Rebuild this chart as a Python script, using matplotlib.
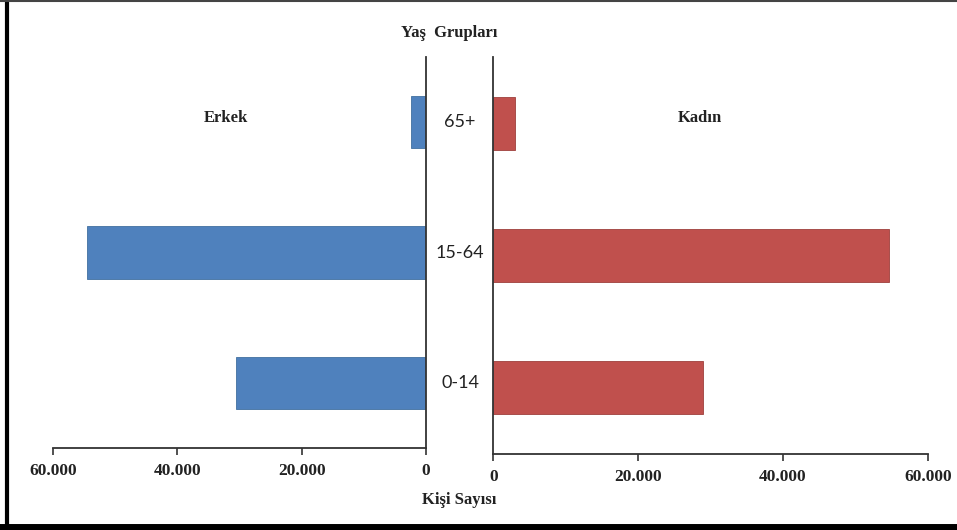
import matplotlib
matplotlib.use("Agg")
import matplotlib.pyplot as plt
from matplotlib.ticker import FuncFormatter
from matplotlib.lines import Line2D

# age groups, bottom to top
age_groups = ["0-14", "15-64", "65+"]
erkek = [30500, 54450, 2450]
kadin = [28950, 54650, 3000]
ticks = [0, 20000, 40000, 60000]

blue = "#4F81BD"
red = "#C0504D"
serif = "Liberation Serif"


def dot_thousands(v, pos):
    return f"{int(v):,}".replace(",", ".")


fig = plt.figure(figsize=(9.57, 5.30), dpi=100)

# left side (Erkek)
ax1 = fig.add_axes([0.0551, 0.1547, 0.3901, 0.7377])
ax1.barh(range(len(age_groups)), erkek, height=0.4, color=blue, edgecolor="#41709f", linewidth=0.6)
ax1.set_xlim(60000, 0)
ax1.set_ylim(-0.5, 2.5)

# right side (Kadın)
ax2 = fig.add_axes([0.5155, 0.1434, 0.4539, 0.7490])
ax2.barh(range(len(age_groups)), kadin, height=0.4, color=red, edgecolor="#9e3f3c", linewidth=0.6)
ax2.set_xlim(0, 60000)
ax2.set_ylim(-0.5, 2.5)

for ax, keep in ((ax1, "right"), (ax2, "left")):
    for s in ax.spines:
        ax.spines[s].set_visible(s in ("bottom", keep))
    for s in ("bottom", keep):
        ax.spines[s].set_linewidth(1.3)
        ax.spines[s].set_color("#333333")
    ax.set_yticks([])
    ax.set_xticks(ticks)
    ax.xaxis.set_major_formatter(FuncFormatter(dot_thousands))
    ax.tick_params(axis="x", length=5, width=1.2, color="#333333", pad=6)
    for lbl in ax.get_xticklabels():
        lbl.set_fontfamily(serif)
        lbl.set_fontweight("bold")
        lbl.set_fontsize(12.5)
        lbl.set_color("#222222")
    ax.patch.set_alpha(0)

# age group labels between the two axes
inv = fig.transFigure.inverted()
for i, g in enumerate(age_groups):
    y = ax1.transData.transform((0, i))[1]
    fy = inv.transform((0, y))[1]
    fig.text(460 / 957, fy, g, ha="center", va="center", fontsize=13,
             family="Lato", color="#222222")

fig.text(449 / 957, 1 - 33 / 530, "Yaş  Grupları", ha="center", va="center",
         family=serif, fontweight="bold", fontsize=12, color="#222222")
fig.text(226 / 957, 1 - 118 / 530, "Erkek", ha="center", va="center",
         family=serif, fontweight="bold", fontsize=12, color="#222222")
fig.text(700 / 957, 1 - 118 / 530, "Kadın", ha="center", va="center",
         family=serif, fontweight="bold", fontsize=12, color="#222222")
fig.text(459 / 957, 1 - 500 / 530, "Kişi Sayısı", ha="center", va="center",
         family=serif, fontweight="bold", fontsize=12, color="#222222")

# outer frame of the picture
fig.add_artist(Line2D([7.5 / 957, 7.5 / 957], [0, 1], transform=fig.transFigure,
                      color="black", linewidth=3))
fig.add_artist(Line2D([0, 1], [3.5 / 530, 3.5 / 530], transform=fig.transFigure,
                      color="black", linewidth=5))
fig.add_artist(Line2D([0, 1], [1 - 0.8 / 530, 1 - 0.8 / 530], transform=fig.transFigure,
                      color="#444444", linewidth=1.5))

fig.savefig("out.png", dpi=100, facecolor="white")
